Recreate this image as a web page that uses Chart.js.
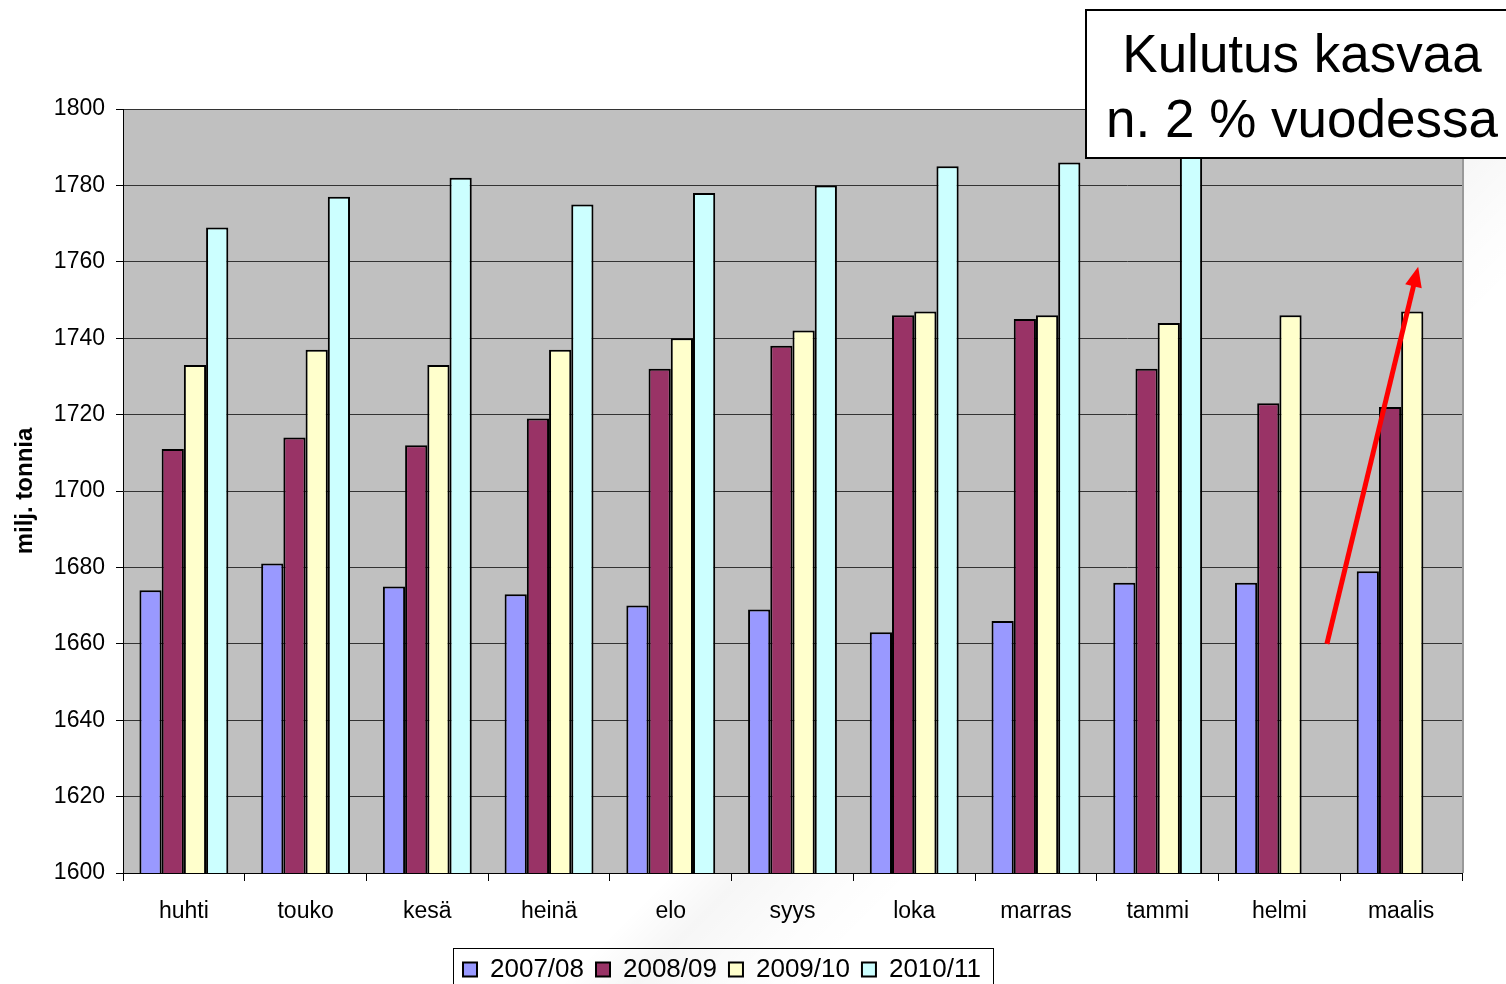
<!DOCTYPE html>
<html lang="fi">
<head>
<meta charset="utf-8">
<title>Kulutus kasvaa</title>
<script src="https://cdn.jsdelivr.net/npm/chart.js@4/dist/chart.umd.min.js"></script>
<style>
  html, body { margin: 0; padding: 0; background: #fff; overflow: hidden; }
  #wrap {
    position: relative; width: 1506px; height: 984px;
    background: linear-gradient(135deg, rgba(255,255,255,0) 62%, rgba(0,0,0,0.035) 65%, rgba(0,0,0,0.01) 69%, rgba(255,255,255,0) 72%);
  }
  canvas { display: block; }
</style>
</head>
<body>
<div id="wrap"><canvas id="chart" width="1506" height="984"></canvas></div>
<script>
// Monthly consumption, million tonnes, per season (April .. March)
const months  = ['huhti', 'touko', 'kesä', 'heinä', 'elo', 'syys', 'loka', 'marras', 'tammi', 'helmi', 'maalis'];
const seasons = ['2007/08', '2008/09', '2009/10', '2010/11'];
const s2007 = [1674, 1681, 1675, 1673, 1670, 1669, 1663, 1666, 1676, 1676, 1679];
const s2008 = [1711, 1714, 1712, 1719, 1732, 1738, 1746, 1745, 1732, 1723, 1722];
const s2009 = [1733, 1737, 1733, 1737, 1740, 1742, 1747, 1746, 1744, 1746, 1747];
const s2010 = [1769, 1777, 1782, 1775, 1778, 1780, 1785, 1786, 1791, null, null];
const yMin = 1600, yMax = 1800, yStep = 20;
const axisTitle = 'milj. tonnia';
const noteLines = ['Kulutus kasvaa', 'n. 2 % vuodessa'];
// trend arrow in data units: [category index, value]
const trendFrom = [9.39, 1660];
const trendTo   = [10.14, 1758.7];

const seriesValues = [s2007, s2008, s2009, s2010];
const seriesColors = ['#9999FF', '#993366', '#FFFFCC', '#CCFFFF'];
const FONT = '"Liberation Sans", Arial, sans-serif';

// grey plot area and its frame
const plotBg = {
  id: 'plotBg',
  beforeDraw(chart) {
    const { ctx, chartArea: a } = chart;
    ctx.save();
    ctx.fillStyle = '#C0C0C0';
    ctx.fillRect(a.left, a.top, a.right - a.left, a.bottom - a.top);
    ctx.restore();
  },
  beforeDatasetsDraw(chart) {
    const { ctx, chartArea: a } = chart;
    ctx.save();
    ctx.strokeStyle = '#999999';
    ctx.lineWidth = 2;
    ctx.beginPath();
    ctx.moveTo(a.right + 1, a.top);
    ctx.lineTo(a.right + 1, a.bottom);
    ctx.stroke();
    ctx.restore();
  }
};

// legend sits below the axis labels, framed, left of the page centre
const legendFrame = {
  id: 'legendFrame',
  afterLayout(chart) {
    const lg = chart.legend;
    const lab = chart.options.plugins.legend.labels;
    const firstBox = (lg.left + lab.padding + lg.right - lg.lineWidths[0]) / 2;
    const dx = 463 - firstBox;
    const dy = 969.5 - (lg.top + lab.padding + lab.font.size / 2);
    lg.left += dx; lg.right += dx;
    lg.top += dy; lg.bottom += dy;
  },
  afterDraw(chart) {
    const hb = chart.legend.legendHitBoxes;
    if (!hb || !hb.length) return;
    const last = hb[hb.length - 1];
    const x0 = hb[0].left - 10, x1 = last.left + last.width + 12;
    const y0 = hb[0].top - 9;
    const { ctx } = chart;
    ctx.save();
    ctx.strokeStyle = '#000';
    ctx.lineWidth = 1;
    ctx.strokeRect(Math.round(x0) + 0.5, Math.round(y0) + 0.5, Math.round(x1 - x0), 80);
    ctx.restore();
  }
};

// red trend arrow drawn in data coordinates
const trendArrow = {
  id: 'trendArrow',
  afterDatasetsDraw(chart) {
    const xs = chart.scales.x, ys = chart.scales.y;
    const x0 = xs.getPixelForValue(trendFrom[0]), y0 = ys.getPixelForValue(trendFrom[1]);
    const x1 = xs.getPixelForValue(trendTo[0]),   y1 = ys.getPixelForValue(trendTo[1]);
    const ang = Math.atan2(y1 - y0, x1 - x0);
    const headLen = 20, headHalf = 8.5;
    const bx = x1 - headLen * Math.cos(ang), by = y1 - headLen * Math.sin(ang);
    const { ctx } = chart;
    ctx.save();
    ctx.strokeStyle = '#FF0000';
    ctx.fillStyle = '#FF0000';
    ctx.lineWidth = 5;
    ctx.lineCap = 'butt';
    ctx.beginPath();
    ctx.moveTo(x0, y0);
    ctx.lineTo(bx + 2 * Math.cos(ang), by + 2 * Math.sin(ang));
    ctx.stroke();
    ctx.beginPath();
    ctx.moveTo(x1, y1);
    ctx.lineTo(bx + headHalf * Math.sin(ang), by - headHalf * Math.cos(ang));
    ctx.lineTo(bx - headHalf * Math.sin(ang), by + headHalf * Math.cos(ang));
    ctx.closePath();
    ctx.fill();
    ctx.restore();
  }
};

// text box in the upper right corner
const noteBox = {
  id: 'noteBox',
  afterDraw(chart) {
    const { ctx } = chart;
    ctx.save();
    ctx.fillStyle = '#FFFFFF';
    ctx.fillRect(1086, 10, 430, 148);
    ctx.strokeStyle = '#000';
    ctx.lineWidth = 2;
    ctx.strokeRect(1086, 10, 430, 148);
    ctx.fillStyle = '#000';
    ctx.font = '53px ' + FONT;
    ctx.textAlign = 'center';
    ctx.textBaseline = 'alphabetic';
    ctx.fillText(noteLines[0], 1302, 72);
    ctx.fillText(noteLines[1], 1302, 137);
    ctx.restore();
  }
};

new Chart(document.getElementById('chart'), {
  type: 'bar',
  data: {
    labels: months,
    datasets: seasons.map((name, i) => ({
      label: name,
      data: seriesValues[i],
      backgroundColor: seriesColors[i],
      borderColor: '#000000',
      borderWidth: 2,
      categoryPercentage: 0.73,
      barPercentage: 1.0
    }))
  },
  options: {
    responsive: false,
    animation: false,
    devicePixelRatio: 1,
    layout: { padding: { left: 0, right: 44, top: 109, bottom: 0 } },
    plugins: {
      legend: {
        position: 'bottom',
        labels: {
          color: '#000',
          font: { family: FONT, size: 26 },
          boxWidth: 14,
          boxHeight: 14,
          padding: 12
        }
      },
      tooltip: { enabled: false }
    },
    scales: {
      x: {
        offset: true,
        grid: {
          offset: true,
          drawOnChartArea: false,
          drawTicks: true,
          tickLength: 8,
          tickColor: '#000',
          color: '#000'
        },
        border: { display: true, color: '#000', width: 1 },
        ticks: { color: '#000', font: { family: FONT, size: 23 }, padding: 17, maxRotation: 0 },
        afterFit(scale) { scale.height = 63; }
      },
      y: {
        min: yMin,
        max: yMax,
        ticks: {
          stepSize: yStep,
          color: '#000',
          font: { family: FONT, size: 23 },
          padding: 11,
          callback: (v) => String(v)
        },
        grid: { color: '#333333', lineWidth: 1, tickLength: 7, tickColor: '#000' },
        border: { display: true, color: '#000', width: 1 },
        title: {
          display: true,
          text: axisTitle,
          color: '#000',
          font: { family: FONT, size: 24, weight: 'bold' },
          padding: { top: 11, bottom: 0 }
        },
        afterFit(scale) { scale.width = 123; }
      }
    }
  },
  plugins: [plotBg, trendArrow, legendFrame, noteBox]
});
</script>
</body>
</html>
